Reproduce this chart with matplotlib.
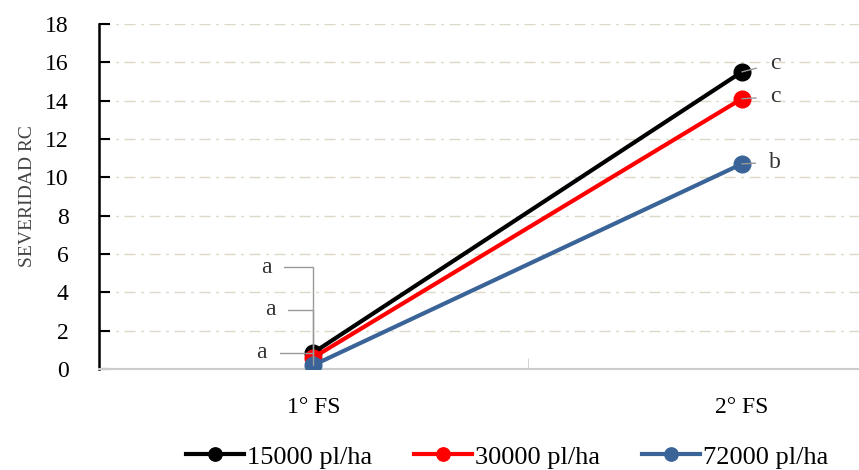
import numpy as np
import matplotlib.pyplot as plt

categorias = ["1° FS", "2° FS"]
series = ["15000 pl/ha", "30000 pl/ha", "72000 pl/ha"]
v15000 = [0.85, 15.5]
v30000 = [0.6, 14.1]
v72000 = [0.2, 10.7]
letras_1 = ["a", "a", "a"]
letras_2 = ["c", "c", "b"]
colores = ["#000000", "#ff0000", "#3a6498"]

plt.rcParams['font.family'] = ['Liberation Serif', 'DejaVu Serif']

fig = plt.figure(figsize=(8.59, 4.70), dpi=100)
ax = fig.add_axes([99/859, 1 - 369/470, (859 - 99)/859, (369 - 24)/470])

x = np.arange(len(categorias))
datos = [v15000, v30000, v72000]
for vals, nombre, c in zip(datos, series, colores):
    ax.plot(x, vals, color=c, lw=3, marker='o', ms=12, label=nombre, zorder=3)

# letras de significancia
pos_1 = [(-0.11, 5.3), (-0.10, 3.1), (-0.12, 0.85)]
for vals, letra, (lx, ly) in zip(datos, letras_1, pos_1):
    ax.annotate(letra, xy=(0, vals[0]), xytext=(lx, ly), fontsize=17,
                ha='center', va='center', color='#333333',
                arrowprops=dict(arrowstyle='-', color='#999999', lw=1,
                                shrinkA=7, shrinkB=0,
                                connectionstyle='angle,angleA=0,angleB=90,rad=0'))
dy_2 = [0.45, 0.1, 0.1]
for vals, letra, dy in zip(datos, letras_2, dy_2):
    ax.annotate(letra, xy=(1, vals[1]), xytext=(1.078, vals[1] + dy), fontsize=17,
                ha='center', va='center', color='#333333',
                arrowprops=dict(arrowstyle='-', color='#999999', lw=1,
                                shrinkA=8, shrinkB=0))

ax.set_ylim(0, 18)
ax.set_yticks(np.arange(0, 19, 2))
ax.set_xlim(-0.5, 1 + (859 - 742) / 428)
ax.set_xticks(x)
ax.set_xticklabels(categorias)
ax.set_xticks([0.5], minor=True)
ax.tick_params(axis='x', which='major', length=0, labelsize=17, pad=20)
ax.tick_params(axis='x', which='minor', direction='in', length=8, color='#cccccc')
ax.tick_params(axis='y', direction='in', length=8, width=1.5, labelsize=17, pad=22)
ax.set_ylabel("SEVERIDAD RC", fontsize=14, color='#444444', labelpad=6)

ax.grid(axis='y', color='#ddd9c8', ls=(0, (8, 4, 2, 4)), lw=1)
ax.set_axisbelow(True)
for s in ['top', 'right']:
    ax.spines[s].set_visible(False)
ax.spines['left'].set_linewidth(1.8)
ax.spines['bottom'].set_color('#cccccc')
ax.spines['bottom'].set_linewidth(1.5)

ax.legend(loc='center', bbox_to_anchor=(0.537, -0.255), ncol=3, frameon=False,
          fontsize=19, handlelength=2.2, markerscale=0.8,
          handletextpad=0.1, columnspacing=1.6)

fig.savefig("out.png", dpi=100)
